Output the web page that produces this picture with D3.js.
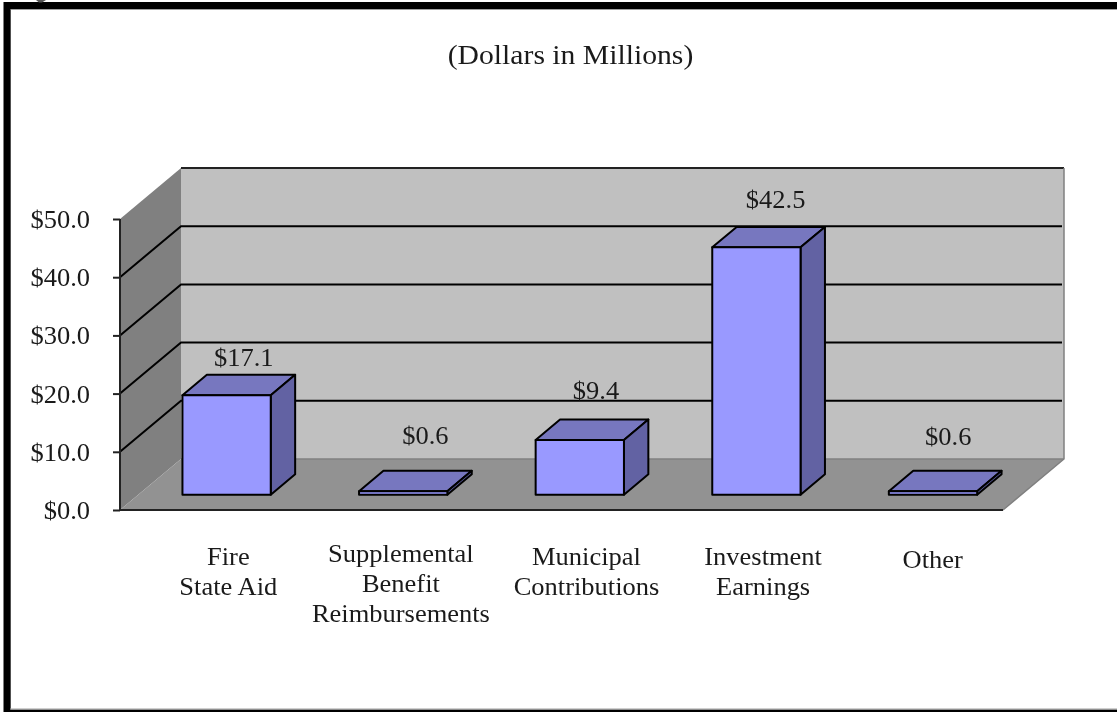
<!DOCTYPE html>
<html><head><meta charset="utf-8">
<script src="https://cdn.jsdelivr.net/npm/d3@7"></script>
<style>
html,body{margin:0;padding:0;background:#fff}
svg{display:block;filter:blur(0.45px)}
text{font-family:"Liberation Serif","Times New Roman",serif;fill:#1a1a1a}
</style></head><body>
<svg id="c" width="1117" height="712"></svg>
<script>
const categories=[["Fire","State Aid"],["Supplemental","Benefit","Reimbursements"],["Municipal","Contributions"],["Investment","Earnings"],["Other"]];
const values=[17.1,0.6,9.4,42.5,0.6];
const valueLabels=["$17.1","$0.6","$9.4","$42.5","$0.6"];
const yTicks=[0,10,20,30,40,50];
const title="(Dollars in Millions)";

const svg=d3.select("#c");
const x0=120,x1=1003,y0=510,y1=219,dx=61,dy=51;
const sx=1.06, fs=25;
const y=d3.scaleLinear().domain([0,50]).range([y0,y1]);
const x=d3.scaleBand().domain(d3.range(values.length)).range([x0,x1]).paddingInner(0.5).paddingOuter(0.25);
const line=d3.line();
const poly=(pts,fill,stroke,sw)=>svg.append("path").attr("d",line(pts)+"Z").attr("fill",fill).attr("stroke",stroke||"none").attr("stroke-width",sw||0).attr("stroke-linejoin","round");
const label=(s,px,py,size)=>svg.append("text").attr("transform",`translate(${px},${py}) scale(${sx},1)`).attr("text-anchor","middle").attr("font-size",size||fs).text(s);

// frame
svg.append("path").attr("d","M10.5,709V9.5H1117").attr("fill","none").attr("stroke","#a0a0a0").attr("stroke-width",1);
svg.append("path").attr("d","M7,712V5.5H1117").attr("fill","none").attr("stroke","#000").attr("stroke-width",7);
svg.append("rect").attr("x",4).attr("y",709.5).attr("width",1113).attr("height",2.5).attr("fill","#000");
svg.append("rect").attr("x",10).attr("y",708.5).attr("width",1107).attr("height",1).attr("fill","#a0a0a0");
svg.append("path").attr("d","M36,0H46L42,2.5H39Z").attr("fill","#555");

// walls
poly([[x0+dx,y1-dy],[x1+dx,y1-dy],[x1+dx,y0-dy],[x0+dx,y0-dy]],"#c0c0c0");
poly([[x0,y1],[x0+dx,y1-dy],[x0+dx,y0-dy],[x0,y0]],"#808080");
poly([[x0,y0],[x0+dx,y0-dy],[x1+dx,y0-dy],[x1,y0]],"#929292");
svg.append("path").attr("d",line([[x0+dx,y1-dy],[x1+dx,y1-dy]])).attr("stroke","#222").attr("stroke-width",2);
svg.append("path").attr("d",line([[x0+dx,y0-dy],[x1+dx,y0-dy]])).attr("stroke","#808080").attr("stroke-width",1.5);
svg.append("path").attr("d",line([[x1+dx,y1-dy],[x1+dx,y0-dy],[x1,y0]])).attr("fill","none").attr("stroke","#808080").attr("stroke-width",1.5);

// gridlines
yTicks.filter(t=>t>0&&t<50).forEach(t=>{
  svg.append("path").attr("d",line([[x0,y(t)],[x0+dx,y(t)-dy],[x1+dx-2,y(t)-dy]])).attr("fill","none").attr("stroke","#000").attr("stroke-width",2);
});
// axes
svg.append("path").attr("d",line([[x0,y1],[x0,y0],[x1,y0]])).attr("fill","none").attr("stroke","#222").attr("stroke-width",2);
const axis=svg.append("g").attr("transform",`translate(${x0},0)`).call(d3.axisLeft(y).tickValues(yTicks).tickSize(7).tickPadding(4).tickFormat(d=>"$"+d3.format(".1f")(d)));
axis.select(".domain").remove();
axis.selectAll("line").attr("stroke","#222").attr("stroke-width",2);
axis.selectAll("text").attr("font-size",fs).attr("font-family",'"Liberation Serif"').attr("fill","#1a1a1a")
  .attr("x",-30/sx).attr("dy","0.34em").attr("transform",`scale(${sx},1)`);

// bars
const fd=0.3, bd=0.4;
const labelShift=[[5,-9],[10,-27],[4,-21],[7,-19],[3,-26]];
const catShift=[20,16,25,25,18];
const catBase=[565,562,565,565,568];
values.forEach((v,i)=>{
  const l=x(i)+fd*dx, r=l+x.bandwidth(), b=y(0)-fd*dy, t=y(v)-fd*dy, ox=bd*dx, oy=bd*dy;
  poly([[l,t],[l+ox,t-oy],[r+ox,t-oy],[r,t]],"#7777bf","#000",2);
  poly([[r,t],[r+ox,t-oy],[r+ox,b-oy],[r,b]],"#6262a3","#000",2);
  poly([[l,t],[r,t],[r,b],[l,b]],"#9999ff","#000",2);
  label(valueLabels[i],(l+r)/2+ox/2+labelShift[i][0],t-oy+labelShift[i][1]);
  const tx=x(i)+x.bandwidth()/2+catShift[i];
  categories[i].forEach((s,j)=>label(s,tx,catBase[i]+j*30));
});
label(title,570.5,64,28);
</script>
</body></html>
